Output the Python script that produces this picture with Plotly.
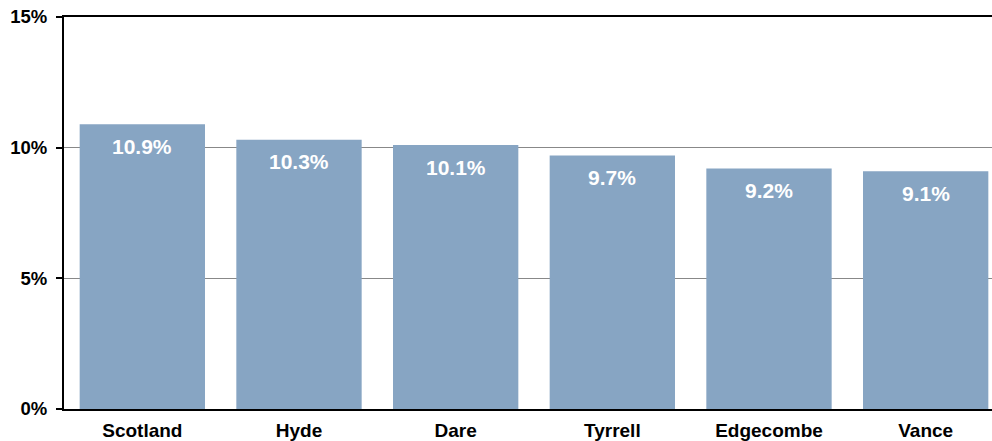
import plotly.graph_objects as go

counties = ["Scotland", "Hyde", "Dare", "Tyrrell", "Edgecombe", "Vance"]
rates = [10.9, 10.3, 10.1, 9.7, 9.2, 9.1]
labels = ["10.9%", "10.3%", "10.1%", "9.7%", "9.2%", "9.1%"]
y_ticks = [0, 5, 10, 15]
y_tick_text = ["0%", "5%", "10%", "15%"]

font_family = "Liberation Sans, Arial, sans-serif"

fig = go.Figure()
fig.add_trace(go.Bar(
    x=counties, y=rates,
    marker=dict(color="#87A5C3", line=dict(width=0)),
    hoverinfo="skip",
))

for c, v, t in zip(counties, rates, labels):
    fig.add_annotation(
        x=c, y=v, text="<b>%s</b>" % t, showarrow=False,
        yanchor="middle", yshift=-22,
        font=dict(family=font_family, size=21, color="white"),
    )

fig.update_layout(
    width=1004, height=441,
    margin=dict(l=64, r=0, t=17, b=32),
    plot_bgcolor="white", paper_bgcolor="white",
    bargap=0.2,
    showlegend=False,
    font=dict(family=font_family, size=18, color="black"),
)
fig.update_xaxes(
    showline=True, linecolor="black", linewidth=2, mirror=True,
    ticks="", showgrid=False, automargin=False,
    tickfont=dict(family=font_family, size=19, color="black", weight="bold"),
    ticklabelstandoff=3,
)
fig.update_yaxes(
    range=[0, 15], tickvals=y_ticks, ticktext=y_tick_text,
    showline=True, linecolor="black", linewidth=2,
    ticks="outside", ticklen=6, tickwidth=2, tickcolor="black",
    showgrid=True, gridcolor="#888888", gridwidth=1.5,
    zeroline=False, automargin=False,
    tickfont=dict(family=font_family, size=18.5, color="black", weight="bold"),
    ticklabelstandoff=5,
)

fig.write_html(
    "out.html",
    config={"displayModeBar": False, "staticPlot": True},
    post_script="document.body.style.margin='0';document.body.style.overflow='hidden';",
)
